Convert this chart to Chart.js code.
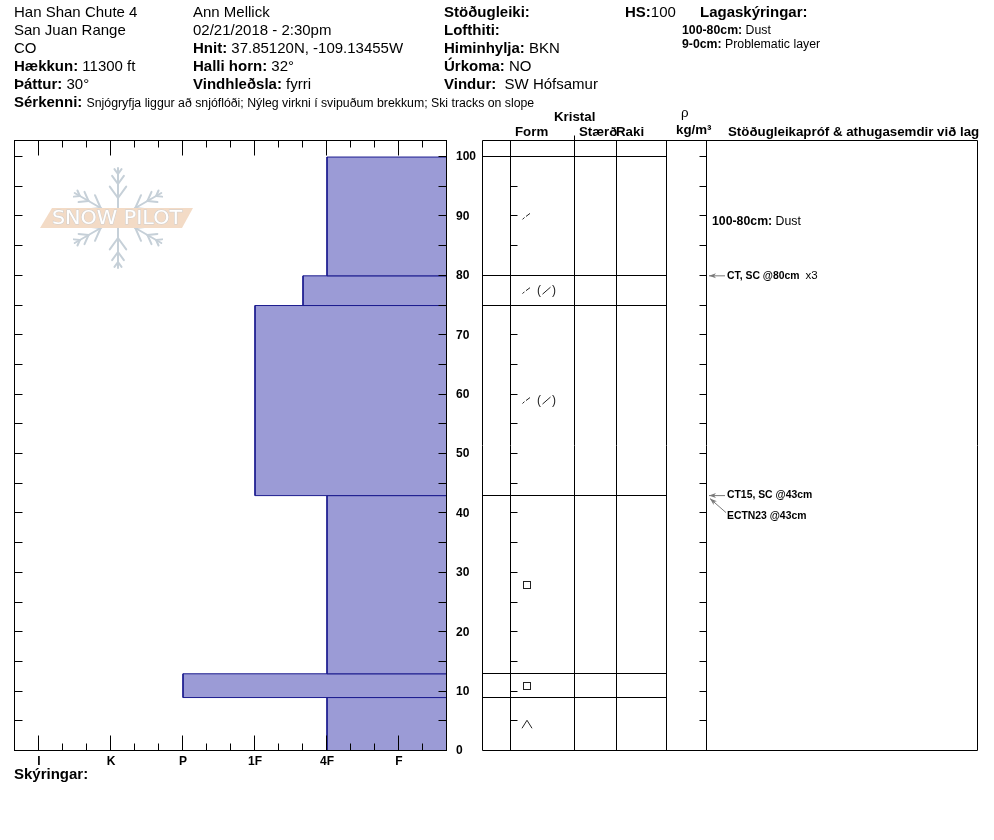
<!DOCTYPE html>
<html>
<head>
<meta charset="utf-8">
<title>Han Shan Chute 4 – snjóprófíll</title>
<script src="https://cdn.jsdelivr.net/npm/chart.js@4.4.1/dist/chart.umd.min.js"></script>
<style>
  html, body { margin: 0; padding: 0; background: #fff; }
  #page { position: relative; width: 994px; height: 840px; overflow: hidden;
          font-family: Arial, "Liberation Sans", sans-serif; color: #000; }
  #profile { position: absolute; left: 0; top: 0; }
  .t { position: absolute; white-space: nowrap; font-size: 15px; line-height: 18px; }
  .s { font-size: 12.3px; line-height: 14px; }
  .h { position: absolute; white-space: nowrap; font-size: 13.3px; line-height: 14px; font-weight: bold; }
  b { font-weight: bold; }
</style>
</head>
<body>
<div id="page">
  <canvas id="profile" width="994" height="840"></canvas>

  <!-- site / observer block -->
  <div class="t" style="left:14px;top:3px">Han Shan Chute 4</div>
  <div class="t" style="left:14px;top:21px">San Juan Range</div>
  <div class="t" style="left:14px;top:39px">CO</div>
  <div class="t" style="left:14px;top:57px"><b>Hækkun:</b> 11300 ft</div>
  <div class="t" style="left:14px;top:75px"><b>Þáttur:</b> 30°</div>
  <div class="t" style="left:14px;top:93px"><b>Sérkenni:</b> <span class="s">Snjógryfja liggur að snjóflóði; Nýleg virkni í svipuðum brekkum; Ski tracks on slope</span></div>

  <div class="t" style="left:193px;top:3px">Ann Mellick</div>
  <div class="t" style="left:193px;top:21px">02/21/2018 - 2:30pm</div>
  <div class="t" style="left:193px;top:39px"><b>Hnit:</b> 37.85120N, -109.13455W</div>
  <div class="t" style="left:193px;top:57px"><b>Halli horn:</b> 32°</div>
  <div class="t" style="left:193px;top:75px"><b>Vindhleðsla:</b> fyrri</div>

  <div class="t" style="left:444px;top:3px"><b>Stöðugleiki:</b></div>
  <div class="t" style="left:444px;top:21px"><b>Lofthiti:</b></div>
  <div class="t" style="left:444px;top:39px"><b>Himinhylja:</b> BKN</div>
  <div class="t" style="left:444px;top:57px"><b>Úrkoma:</b> NO</div>
  <div class="t" style="left:444px;top:75px"><b>Vindur:</b>&nbsp; SW Hófsamur</div>

  <div class="t" style="left:625px;top:3px"><b>HS:</b>100</div>
  <div class="t" style="left:700px;top:3px"><b>Lagaskýringar:</b></div>
  <div class="t s" style="left:682px;top:23px"><b>100-80cm:</b> Dust</div>
  <div class="t s" style="left:682px;top:37px"><b>9-0cm:</b> Problematic layer</div>

  <!-- table headings -->
  <div class="h" style="left:554px;top:110px">Kristal</div>
  <div class="h" style="left:515px;top:125px">Form</div>
  <div class="h" style="left:579px;top:125px">Stærð</div>
  <div class="h" style="left:616px;top:125px">Raki</div>
  <div class="h" style="left:681px;top:106px;font-weight:normal">ρ</div>
  <div class="h" style="left:676px;top:123px">kg/m³</div>
  <div class="h" style="left:728px;top:125px">Stöðugleikapróf &amp; athugasemdir við lag</div>

  <div class="t" style="left:14px;top:765px"><b>Skýringar:</b></div>
</div>

<script>
// ---- profile data -------------------------------------------------------
const hardnessScale  = ['F', '4F', '1F', 'P', 'K', 'I'];   // soft -> hard
const depthLabels    = [0, 10, 20, 30, 40, 50, 60, 70, 80, 90, 100];

const layerTop       = [100, 80, 75, 43, 13, 9];
const layerBottom    = [ 80, 75, 43, 13,  9, 0];
const layerHardness  = ['4F', '4F+', '1F', '4F', 'P', '4F'];
const primaryForm    = ['DFbk', 'DFbk', 'DFbk', 'FC', 'FC', 'DH'];
const secondaryForm  = ['', 'DF', 'DF', '', '', ''];

const noteTop        = [100];
const noteBottom     = [80];
const noteText       = ['Dust'];

const testDepth      = [80, 43, 43];
const testCode       = ['CT, SC @80cm', 'CT15, SC @43cm', 'ECTN23 @43cm'];
const testExtra      = ['x3', '', ''];

// ---- helpers ------------------------------------------------------------
const FONT = 'Arial, "Liberation Sans", sans-serif';
const X_RIGHT = 1 / 3;                          // soft edge of the hardness axis
const X_LEFT  = hardnessScale.length + 1 / 3;   // hard edge of the hardness axis

function hardnessValue(code) {
  const base = code.replace(/[+-]$/, '');
  let v = hardnessScale.indexOf(base) + 1;
  if (code.endsWith('+')) v += 1 / 3;
  if (code.endsWith('-')) v -= 1 / 3;
  return v;
}

function seg(ctx, x1, y1, x2, y2) {
  ctx.beginPath(); ctx.moveTo(x1, y1); ctx.lineTo(x2, y2); ctx.stroke();
}
const px = v => Math.round(v) - 0.5;

// grain-form glyphs
const glyphs = {
  DFbk(ctx, cx, cy) {
    seg(ctx, cx - 4.5, cy + 3, cx - 2.5, cy + 1);
    seg(ctx, cx - 1, cy, cx + 3, cy - 3);
  },
  DF(ctx, cx, cy) {
    seg(ctx, cx - 4, cy + 3.5, cx + 4, cy - 3.5);
  },
  FC(ctx, cx, cy) {
    ctx.strokeRect(Math.round(cx - 4) + 0.5, Math.round(cy - 4) + 0.5, 7, 7);
  },
  DH(ctx, cx, cy) {
    ctx.beginPath();
    ctx.moveTo(cx - 5, cy + 4); ctx.lineTo(cx, cy - 4); ctx.lineTo(cx + 5, cy + 4);
    ctx.stroke();
  }
};

function arrow(ctx, x1, y1, x2, y2) {
  ctx.save();
  ctx.strokeStyle = '#7a7a7a'; ctx.fillStyle = '#7a7a7a'; ctx.lineWidth = 1;
  seg(ctx, x1, y1, x2, y2);
  const a = Math.atan2(y2 - y1, x2 - x1);
  ctx.beginPath();
  ctx.moveTo(x2, y2);
  ctx.lineTo(x2 - 7 * Math.cos(a) + 2.5 * Math.sin(a), y2 - 7 * Math.sin(a) - 2.5 * Math.cos(a));
  ctx.lineTo(x2 - 5 * Math.cos(a), y2 - 5 * Math.sin(a));
  ctx.lineTo(x2 - 7 * Math.cos(a) - 2.5 * Math.sin(a), y2 - 7 * Math.sin(a) + 2.5 * Math.cos(a));
  ctx.closePath(); ctx.fill();
  ctx.restore();
}

function drawLogo(ctx, cx, cy) {
  ctx.save();
  ctx.strokeStyle = '#c6d0d8'; ctx.lineWidth = 2; ctx.lineCap = 'round';
  const L = 50;
  for (let k = 0; k < 6; k++) {
    const ang = Math.PI / 2 + k * Math.PI / 3;
    const dx = Math.cos(ang), dy = -Math.sin(ang);
    seg(ctx, cx, cy, cx + dx * L, cy + dy * L);
    for (const [t, b] of [[0.4, 14], [0.68, 10], [0.88, 6]]) {
      const bx = cx + dx * L * t, by = cy + dy * L * t;
      for (const s of [-1, 1]) {
        const a2 = ang + s * Math.PI / 5;
        seg(ctx, bx, by, bx + Math.cos(a2) * b, by - Math.sin(a2) * b);
      }
    }
  }
  ctx.fillStyle = '#f3dbc6';
  ctx.beginPath();
  ctx.moveTo(cx - 78, cy + 10); ctx.lineTo(cx - 66, cy - 10);
  ctx.lineTo(cx + 75, cy - 10); ctx.lineTo(cx + 64, cy + 10);
  ctx.closePath(); ctx.fill();
  ctx.font = '20px "DejaVu Sans"';
  ctx.textBaseline = 'middle';
  const w = ctx.measureText('SNOW PILOT').width;
  ctx.translate(cx - 66, cy + 1);
  ctx.scale(130 / w, 1);
  ctx.fillStyle = '#ffffff'; ctx.strokeStyle = '#cfcfcf'; ctx.lineWidth = 1;
  ctx.strokeText('SNOW PILOT', 0, 0);
  ctx.fillText('SNOW PILOT', 0, 0);
  ctx.restore();
}

// table column boundaries: table edge | Form | Stærð | Raki | ρ | comments
const tableCols = [483, 511, 575, 617, 667, 707, 978];

const profileDecor = {
  id: 'profileDecor',
  beforeDatasetsDraw(chart) {
    const a = chart.chartArea;
    drawLogo(chart.ctx, a.left + 103, a.top + 77);
  },
  afterDatasetsDraw(chart) {
    const { ctx, chartArea: a, scales: { x, y } } = chart;
    ctx.save();
    ctx.strokeStyle = '#000'; ctx.lineWidth = 1;

    // hardness plot frame
    const L = px(a.left), R = px(a.right), T = px(a.top), B = px(a.bottom);
    ctx.strokeRect(L, T, R - L, B - T);

    // hardness ticks on top and bottom edges (thirds, long on whole steps)
    for (let k = 2; k <= 3 * hardnessScale.length; k++) {
      const v = k / 3;
      const xx = px(x.getPixelForValue(v));
      const len = (k % 3 === 0) ? 15 : 7;
      seg(ctx, xx, T, xx, T + len);
      seg(ctx, xx, B, xx, B - len);
    }

    // depth ticks every 5 cm
    for (let d = 5; d <= 100; d += 5) {
      const yy = px(y.getPixelForValue(d));
      seg(ctx, L, yy, L + 8, yy);
      seg(ctx, R, yy, R - 8, yy);
      seg(ctx, px(tableCols[1]), yy, px(tableCols[1]) + 7, yy);
      seg(ctx, px(tableCols[5]), yy, px(tableCols[5]) - 7, yy);
    }

    // table frame and columns
    const c = tableCols.map(px);
    seg(ctx, c[0], T, c[6], T);
    seg(ctx, c[0], B, c[6], B);
    c.forEach(cx => seg(ctx, cx, T, cx, B));
    seg(ctx, c[2], T - 5, c[2], T);

    // layer boundaries across the crystal columns
    layerTop.forEach(top => {
      const yy = px(y.getPixelForValue(top));
      seg(ctx, c[0], yy, c[4], yy);
    });

    // grain forms
    ctx.strokeStyle = '#222'; ctx.fillStyle = '#222';
    ctx.font = '12px ' + FONT; ctx.textBaseline = 'middle'; ctx.textAlign = 'left';
    layerTop.forEach((top, i) => {
      const cy = y.getPixelForValue((top + layerBottom[i]) / 2);
      const cx = 527;
      glyphs[primaryForm[i]](ctx, cx, cy);
      if (secondaryForm[i]) {
        ctx.fillText('(', cx + 10, cy);
        glyphs[secondaryForm[i]](ctx, cx + 19.5, cy);
        ctx.fillText(')', cx + 25, cy);
      }
    });

    // layer comments
    ctx.fillStyle = '#000';
    noteTop.forEach((top, i) => {
      const yy = y.getPixelForValue((top + noteBottom[i]) / 2) + 5;
      const label = top + '-' + noteBottom[i] + 'cm:';
      ctx.font = 'bold 12.3px ' + FONT;
      ctx.fillText(label, 712, yy);
      const w = ctx.measureText(label + ' ').width;
      ctx.font = '12.3px ' + FONT;
      ctx.fillText(noteText[i], 712 + w, yy);
    });

    // stability tests with pointers to their depth
    const seen = {};
    testDepth.forEach((d, i) => {
      const k = seen[d] || 0; seen[d] = k + 1;
      const yd = y.getPixelForValue(d);
      const yt = yd + 21 * k;
      if (k === 0) arrow(ctx, 725, yd, 709, yd);
      else arrow(ctx, 726, yt - 4, 710, yd + 3);
      ctx.fillStyle = '#000';
      ctx.font = 'bold 10.4px ' + FONT;
      ctx.fillText(testCode[i], 727, yt);
      if (testExtra[i]) {
        const w = ctx.measureText(testCode[i]).width;
        ctx.font = '11.5px ' + FONT;
        ctx.fillText(testExtra[i], 727 + w + 6, yt);
      }
    });
    ctx.restore();
  }
};

// ---- chart --------------------------------------------------------------
Chart.defaults.font.family = FONT;
Chart.defaults.color = '#000';

const layerDatasets = layerTop.map((top, i) => {
  const h = hardnessValue(layerHardness[i]);
  const bottom = layerBottom[i];
  return {
    label: top + '-' + bottom + ' cm',
    data: [
      { x: X_RIGHT, y: top }, { x: h, y: top },
      { x: h, y: bottom }, { x: X_RIGHT, y: bottom }, { x: X_RIGHT, y: top }
    ],
    showLine: true,
    fill: 'shape',
    backgroundColor: '#9b9bd6',
    borderColor: '#1c1c8f',
    borderWidth: 1,
    pointRadius: 0,
    tension: 0
  };
});

new Chart(document.getElementById('profile'), {
  type: 'scatter',
  data: { datasets: layerDatasets },
  options: {
    responsive: false,
    animation: false,
    devicePixelRatio: 1,
    layout: { padding: { left: 15, top: 141, right: 994 - 447 - 40, bottom: 840 - 751 - 20 } },
    plugins: { legend: { display: false }, tooltip: { enabled: false } },
    scales: {
      x: {
        type: 'linear',
        reverse: true,
        min: X_RIGHT,
        max: X_LEFT,
        afterBuildTicks: s => { s.ticks = hardnessScale.map((_, i) => ({ value: i + 1 })); },
        afterFit: s => { s.height = 20; },
        ticks: {
          autoSkip: false, maxRotation: 0, padding: 3,
          font: { size: 12, weight: 'bold' },
          callback: v => hardnessScale[Math.round(v) - 1]
        },
        grid: { display: false, drawTicks: false },
        border: { display: false }
      },
      y: {
        type: 'linear',
        position: 'right',
        min: 0,
        max: 102.7,
        afterBuildTicks: s => { s.ticks = depthLabels.map(v => ({ value: v })); },
        afterFit: s => { s.width = 40; },
        ticks: { padding: 9, font: { size: 12, weight: 'bold' }, callback: v => String(v) },
        grid: { display: false, drawTicks: false },
        border: { display: false }
      }
    }
  },
  plugins: [profileDecor]
});
</script>
</body>
</html>
